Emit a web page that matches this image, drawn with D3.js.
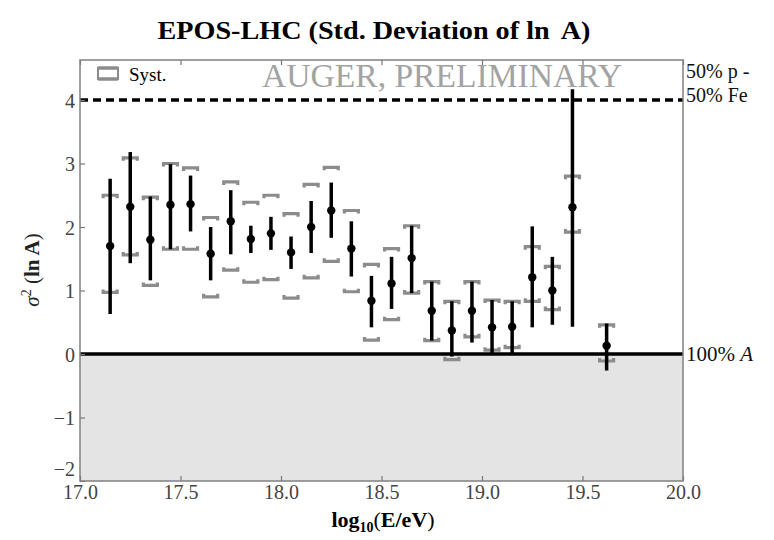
<!DOCTYPE html>
<html><head><meta charset="utf-8">
<script src="https://cdn.jsdelivr.net/npm/d3@7/dist/d3.min.js"></script>
<style>body{margin:0;background:#fff}svg{display:block}</style>
</head><body>
<svg id="c" width="774" height="540"></svg>
<script>
const logE   = [17.15,17.25,17.35,17.45,17.55,17.65,17.75,17.85,17.95,18.05,18.15,18.25,18.35,18.45,18.55,18.65,18.75,18.85,18.95,19.05,19.15,19.25,19.35,19.45,19.62];
const sigma2 = [1.70,2.32,1.80,2.35,2.36,1.58,2.09,1.81,1.90,1.60,2.00,2.26,1.66,0.84,1.11,1.51,0.68,0.37,0.68,0.42,0.43,1.21,1.00,2.31,0.13];
const statLo = [0.63,1.43,1.16,1.65,1.93,1.16,1.57,1.59,1.64,1.34,1.59,1.83,1.22,0.42,0.71,0.96,0.21,-0.04,0.18,0.00,0.00,0.42,0.46,0.43,-0.26];
const statHi = [2.76,3.18,2.48,2.99,2.81,2.00,2.58,2.02,2.16,1.85,2.41,2.70,2.09,1.23,1.53,2.02,1.14,0.83,1.14,0.85,0.83,2.01,1.53,4.17,0.48];
const systLo = [0.97,1.56,1.08,1.65,1.65,0.90,1.32,1.13,1.17,0.88,1.20,1.46,0.98,0.22,0.54,0.96,0.21,-0.09,0.27,0.06,0.10,0.83,0.70,1.92,-0.11];
const systHi = [2.50,3.09,2.47,3.00,2.93,2.15,2.71,2.39,2.50,2.21,2.67,2.94,2.26,1.41,1.66,2.02,1.14,0.83,1.14,0.85,0.83,1.69,1.38,2.80,0.46];
const xTicks = [17.0,17.5,18.0,18.5,19.0,19.5,20.0];
const yTicks = [-2,-1,0,1,2,3,4];
const pureFe = 4, pureA = 0;

const svg = d3.select("#c");
const L=80,R=683,T=60,B=481;
const x = d3.scaleLinear().domain([17,20]).range([L,R]);
const y = d3.scaleLinear().domain([-2,4.63]).range([B,T]);
const serif = "'Liberation Serif','DejaVu Serif',serif";

// title
svg.append("text").attr("x",374).attr("y",39).attr("text-anchor","middle")
  .attr("font-family",serif).attr("font-weight","bold").attr("font-size",26)
  .attr("textLength",433).attr("lengthAdjust","spacingAndGlyphs")
  .text("EPOS-LHC (Std. Deviation of ln\u2009 A)");

// shaded region below 0
svg.append("rect").attr("x",L).attr("y",y(0)).attr("width",R-L).attr("height",B-y(0)).attr("fill","#e4e4e4");

// watermark
svg.append("text").attr("x",442).attr("y",87).attr("text-anchor","middle")
  .attr("font-family",serif).attr("font-size",33).attr("fill","#a3a3a3")
  .attr("textLength",360).attr("lengthAdjust","spacingAndGlyphs")
  .text("AUGER, PRELIMINARY");

// reference lines
svg.append("line").attr("x1",L).attr("x2",R).attr("y1",y(pureFe)).attr("y2",y(pureFe))
  .attr("stroke","#000").attr("stroke-width",3.5).attr("stroke-dasharray","8,5");
svg.append("line").attr("x1",L).attr("x2",R).attr("y1",y(pureA)).attr("y2",y(pureA))
  .attr("stroke","#000").attr("stroke-width",3.5);

// axes ticks (inward)
const tickCol="#777";
const gx = svg.append("g").attr("transform",`translate(0,${B})`)
  .call(d3.axisBottom(x).tickValues(xTicks).tickSizeInner(-5).tickSizeOuter(0).tickPadding(6).tickFormat(d3.format(".1f")));
const gxt = svg.append("g").attr("transform",`translate(0,${T})`)
  .call(d3.axisTop(x).tickValues(xTicks).tickSizeInner(-5).tickSizeOuter(0).tickFormat(""));
const gy = svg.append("g").attr("transform",`translate(${L},0)`)
  .call(d3.axisLeft(y).tickValues(yTicks).tickSizeInner(-5).tickSizeOuter(0).tickPadding(5).tickFormat(d=>d<0?"\u2212"+(-d):d));
[gx,gxt,gy].forEach(g=>{
  g.select(".domain").remove();
  g.selectAll(".tick line").attr("stroke",tickCol).attr("stroke-width",1.2);
  g.selectAll("text").attr("font-family",serif).attr("font-size",20).attr("fill","#444");
});
gx.selectAll("text").attr("dy","0.62em");
gy.selectAll("text").attr("dy","0.35em");
gy.selectAll(".tick").filter(d=>d===-2).select("text").attr("dy","-0.3em");

// frame
svg.append("rect").attr("x",L).attr("y",T).attr("width",R-L).attr("height",B-T)
  .attr("fill","none").attr("stroke","#808080").attr("stroke-width",1.5);

// data
const data = logE.map((e,i)=>({e,v:sigma2[i],lo:statLo[i],hi:statHi[i],slo:systLo[i],shi:systHi[i]}));
const syCol="#8c8c8c", hw=7, dh=3;
const g = svg.append("g");
g.selectAll("path.st").data(data).join("path").attr("class","st")
  .attr("d",d=>`M${x(d.e)-hw},${y(d.shi)+dh}V${y(d.shi)}H${x(d.e)+hw}V${y(d.shi)+dh}`)
  .attr("fill","none").attr("stroke",syCol).attr("stroke-width",3.2);
g.selectAll("path.sb").data(data).join("path").attr("class","sb")
  .attr("d",d=>`M${x(d.e)-hw},${y(d.slo)-dh}V${y(d.slo)}H${x(d.e)+hw}V${y(d.slo)-dh}`)
  .attr("fill","none").attr("stroke",syCol).attr("stroke-width",3.2);
g.selectAll("line.err").data(data).join("line").attr("class","err")
  .attr("x1",d=>x(d.e)).attr("x2",d=>x(d.e)).attr("y1",d=>y(d.hi)).attr("y2",d=>y(d.lo))
  .attr("stroke","#000").attr("stroke-width",3.5);
g.selectAll("circle").data(data).join("circle")
  .attr("cx",d=>x(d.e)).attr("cy",d=>y(d.v)).attr("r",4.2).attr("fill","#000");

// legend
svg.append("rect").attr("x",98).attr("y",68).attr("width",20).attr("height",11)
  .attr("fill","none").attr("stroke",syCol).attr("stroke-width",2);
svg.append("line").attr("x1",98).attr("x2",118).attr("y1",68).attr("y2",68).attr("stroke",syCol).attr("stroke-width",3.5);
svg.append("line").attr("x1",98).attr("x2",118).attr("y1",79).attr("y2",79).attr("stroke",syCol).attr("stroke-width",3.5);
svg.append("text").attr("x",129).attr("y",81).attr("font-family",serif).attr("font-size",19).text("Syst.");

// right labels
const rl = svg.append("g").attr("font-family",serif).attr("font-size",20).attr("fill","#111");
rl.append("text").attr("x",686).attr("y",78).text("50% p -");
rl.append("text").attr("x",686).attr("y",102).text("50% Fe");
const t3 = rl.append("text").attr("x",686).attr("y",y(0)+7).attr("font-size",21).text("100% ");
t3.append("tspan").attr("font-style","italic").text("A");

// x label
const xl = svg.append("text").attr("x",383).attr("y",527).attr("text-anchor","middle")
  .attr("font-family",serif).attr("font-size",22).attr("font-weight","bold");
xl.append("tspan").text("log");
xl.append("tspan").attr("font-size",14).attr("dy",5).text("10");
xl.append("tspan").attr("dy",-5).attr("font-weight","normal").text("(");
xl.append("tspan").text("E/eV");
xl.append("tspan").attr("font-weight","normal").text(")");

// y label
const yl = svg.append("text").attr("transform","translate(39,270) rotate(-90)").attr("text-anchor","middle")
  .attr("font-family",serif).attr("font-size",21).attr("fill","#222");
yl.append("tspan").attr("font-style","italic").text("\u03c3");
yl.append("tspan").attr("font-size",14).attr("dy",-8).text("2");
yl.append("tspan").attr("dy",8).text(" (");
yl.append("tspan").attr("font-weight","bold").text("ln A");
yl.append("tspan").text(")");
</script>
</body></html>
